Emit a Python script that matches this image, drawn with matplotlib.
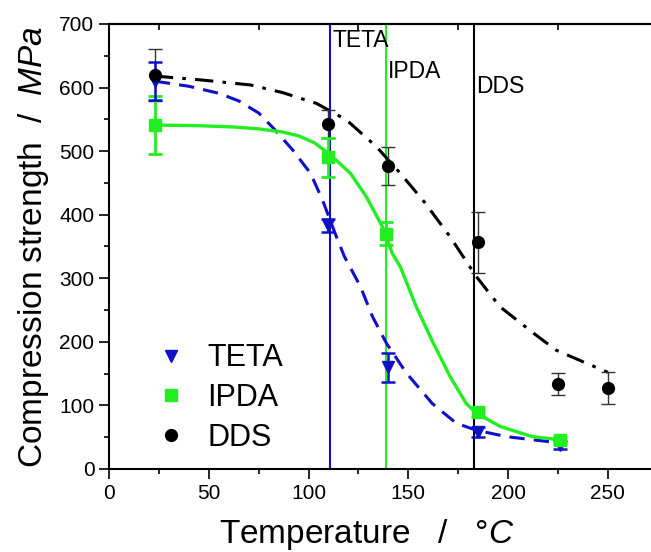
import matplotlib
matplotlib.use("Agg")
import matplotlib.pyplot as plt
from matplotlib.ticker import MultipleLocator, FixedLocator

plt.rcParams["font.family"] = ["Liberation Sans", "DejaVu Sans"]
plt.rcParams["mathtext.fontset"] = "custom"
plt.rcParams["mathtext.rm"] = "Liberation Sans"
plt.rcParams["mathtext.it"] = "Liberation Sans:italic"

# measured points
teta_x = [23, 110, 140, 185, 226]
teta_y = [610, 383, 160, 58, 38]
teta_err = [30, 10, 23, 8, 6]

ipda_x = [23, 110, 139, 185, 226]
ipda_y = [541, 490, 370, 90, 45]
ipda_err = [45, 31, 18, 8, 5]

dds_x = [23, 110, 140, 185, 225, 250]
dds_y = [620, 542, 476, 357, 134, 127]
dds_err = [41, 22, 30, 48, 17, 25]

# fitted curves
teta_fit_x = [23, 40, 55, 65, 75, 83, 92, 101, 107, 114, 118, 126, 132, 139, 149, 162, 174, 184, 199, 212, 226]
teta_fit_y = [610, 602, 591, 579, 560, 534, 502, 465, 423, 365, 334, 287, 240, 198, 151, 103, 72, 61, 51, 46, 41]

ipda_fit_x = [23, 45, 62, 75, 87, 95, 103, 111, 121, 129, 137, 142, 146, 154, 162.5, 171, 179, 184, 196, 212, 226]
ipda_fit_y = [541, 540, 538, 535, 530, 524, 513, 494, 465, 428, 381, 339, 318, 255, 198, 145, 103, 88, 67, 51, 46]

dds_fit_x = [23, 46, 71, 87, 104, 119, 134, 146, 158, 171, 184, 196, 213, 224, 238, 250]
dds_fit_y = [618, 612, 604, 592, 575, 549, 507, 465, 420, 365, 303, 255, 213, 187, 168, 152]

# vertical Tg markers
tg_x = [111, 138.6, 183]
tg_names = ["TETA", "IPDA", "DDS"]
tg_label_y = [664, 615, 591]

blue = "#1010c8"
green = "#22ee22"

fig = plt.figure(figsize=(6.51, 5.52), dpi=100)
ax = fig.add_axes([0.1674, 0.1504, 0.843, 0.8062])

colors = [blue, green, "black"]
for xv, c in zip(tg_x, colors):
    ax.axvline(xv, color=c, linewidth=1.5, zorder=1)
for xv, name, yv in zip(tg_x, tg_names, tg_label_y):
    ax.text(xv + 1, yv, name, fontsize=16.5, ha="left", va="baseline")

ax.plot(teta_fit_x, teta_fit_y, color=blue, linewidth=2.2, dashes=(5, 3), zorder=2)
ax.plot(ipda_fit_x, ipda_fit_y, color=green, linewidth=2.4, zorder=2)
ax.plot(dds_fit_x, dds_fit_y, color="black", linewidth=2.2, dashes=(6, 3, 1.2, 3), zorder=2)

ax.errorbar(dds_x, dds_y, yerr=dds_err, fmt="none", ecolor="#333333", elinewidth=1.0, capsize=5, capthick=1.0, zorder=3)
ax.errorbar(ipda_x, ipda_y, yerr=ipda_err, fmt="none", ecolor=green, elinewidth=2.0, capsize=5, capthick=2.0, zorder=3)
ax.errorbar(teta_x, teta_y, yerr=teta_err, fmt="none", ecolor=blue, elinewidth=1.8, capsize=5, capthick=1.8, zorder=3)

ax.plot(teta_x, teta_y, "v", color=blue, markersize=9, linestyle="none", label="TETA", zorder=4)
ax.plot(ipda_x, ipda_y, "s", color=green, markersize=8, linestyle="none", label="IPDA", zorder=4)
ax.plot(dds_x, dds_y, "o", color="black", markersize=8.5, linestyle="none", label="DDS", zorder=4)

ax.set_xlim(0, 275)
ax.set_ylim(0, 700)
ax.xaxis.set_major_locator(MultipleLocator(50))
ax.xaxis.set_minor_locator(MultipleLocator(25))
ax.yaxis.set_major_locator(MultipleLocator(100))
ax.yaxis.set_minor_locator(MultipleLocator(50))
ax.tick_params(which="major", direction="out", length=7, width=1.2, labelsize=15)
ax.tick_params(which="minor", direction="out", length=3.5, width=1.2)
ax.spines["right"].set_visible(False)
for s in ax.spines.values():
    s.set_linewidth(1.5)

top = ax.secondary_xaxis("top")
top.xaxis.set_major_locator(FixedLocator([25, 75, 125, 175, 225, 275]))
top.tick_params(direction="in", length=4, width=1.2, labeltop=False)
top.spines["top"].set_linewidth(1.5)

ax.set_xlabel(r"Temperature   /   °$C$", fontsize=24)
ax.xaxis.set_label_coords(0.47, -0.148)
ax.xaxis.label.set_va("center")
ax.set_ylabel(r"Compression strength  /  $MPa$", fontsize=24, labelpad=6)

ax.legend(loc="lower left", bbox_to_anchor=(0.04, -0.012), frameon=False, fontsize=22,
          handletextpad=0.6, labelspacing=0.32, handlelength=1.2, borderaxespad=0.3)

fig.savefig("out.png", dpi=100)
